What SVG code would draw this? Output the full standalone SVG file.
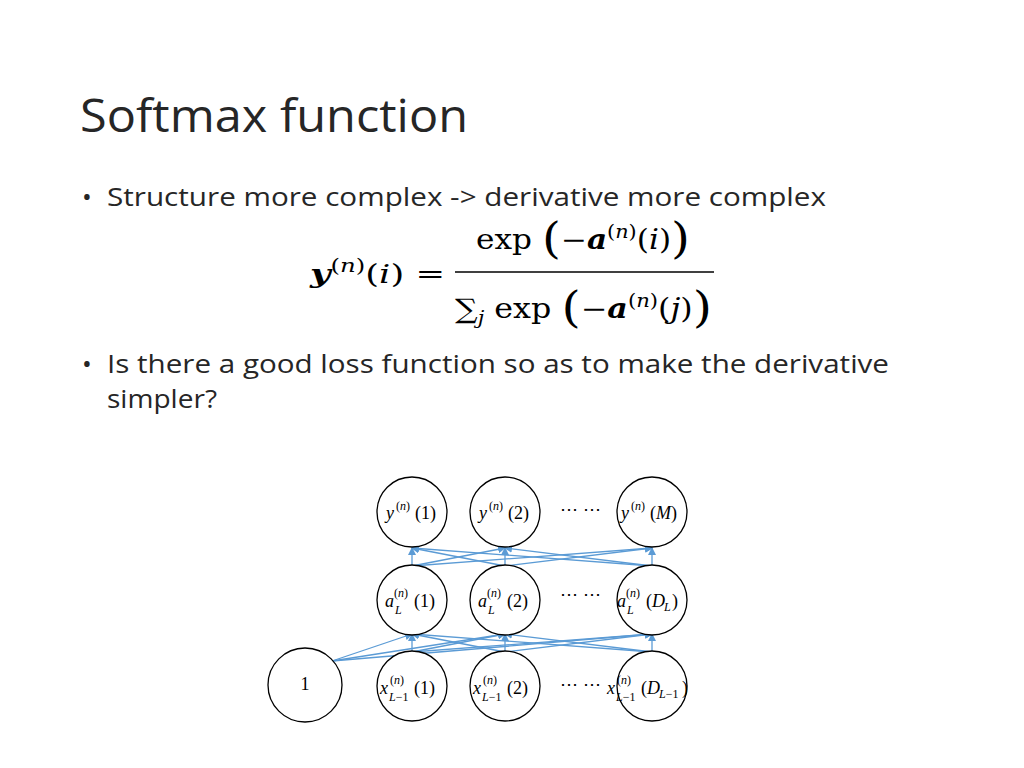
<svg xmlns="http://www.w3.org/2000/svg" width="1024" height="768" viewBox="0 0 1024 768">
<style>
.t{font-family:"Open Sans","Liberation Sans",sans-serif;fill:#262626}
.m{font-family:"DejaVu Serif","Liberation Serif",serif;fill:#000}
.n{fill:#fff;stroke:#000;stroke-width:1.3}
.l{font-family:"Liberation Serif","DejaVu Serif",serif;font-size:18px;fill:#000}
.s{font-family:"Liberation Serif","DejaVu Serif",serif;font-size:12px;fill:#000}
.i{font-style:italic}
.c line{stroke:#5b9bd5;stroke-width:1.3;marker-end:url(#a)}
</style>
<defs><marker id="a" markerWidth="8" markerHeight="8" refX="7" refY="4" orient="auto" markerUnits="userSpaceOnUse"><path d="M0,0L8,4L0,8z" fill="#5b9bd5"/></marker></defs>
<rect width="1024" height="768" fill="#fff"/>
<text class="t" x="80" y="132" font-size="46" textLength="388" lengthAdjust="spacingAndGlyphs">Softmax function</text>
<text class="t" x="82" y="206" font-size="26">•</text>
<text class="t" x="107" y="206" font-size="26" textLength="719" lengthAdjust="spacingAndGlyphs">Structure more complex -&gt; derivative more complex</text>
<text class="m" x="310" y="283" font-size="26" textLength="135" lengthAdjust="spacingAndGlyphs"><tspan font-weight="bold" font-style="italic">y</tspan><tspan font-size="18" dy="-11">(</tspan><tspan font-size="18" font-style="italic">n</tspan><tspan font-size="18">)</tspan><tspan dy="11">(</tspan><tspan font-style="italic">i</tspan><tspan>) =</tspan></text>
<line x1="455" y1="272" x2="714" y2="272" stroke="#000" stroke-width="1.5"/>
<text class="m" x="476" y="249" font-size="27" textLength="214" lengthAdjust="spacingAndGlyphs">exp <tspan font-size="42" dy="4">(</tspan><tspan dy="-4">−</tspan><tspan font-weight="bold" font-style="italic">a</tspan><tspan font-size="18" dy="-11">(</tspan><tspan font-size="18" font-style="italic">n</tspan><tspan font-size="18">)</tspan><tspan dy="11">(</tspan><tspan font-style="italic">i</tspan><tspan>)</tspan><tspan font-size="42" dy="4">)</tspan></text>
<text class="m" x="455" y="318" font-size="27" textLength="257" lengthAdjust="spacingAndGlyphs">∑<tspan font-size="18" font-style="italic" dy="6">j</tspan><tspan dy="-6"> exp </tspan><tspan font-size="42" dy="4">(</tspan><tspan dy="-4">−</tspan><tspan font-weight="bold" font-style="italic">a</tspan><tspan font-size="18" dy="-11">(</tspan><tspan font-size="18" font-style="italic">n</tspan><tspan font-size="18">)</tspan><tspan dy="11">(</tspan><tspan font-style="italic">j</tspan><tspan>)</tspan><tspan font-size="42" dy="4">)</tspan></text>
<text class="t" x="82" y="373" font-size="26">•</text>
<text class="t" x="107" y="373" font-size="26" textLength="782" lengthAdjust="spacingAndGlyphs">Is there a good loss function so as to make the derivative</text>
<text class="t" x="107" y="408" font-size="26" textLength="110" lengthAdjust="spacingAndGlyphs">simpler?</text>
<g class="c">
<line x1="412" y1="566" x2="412" y2="548"/><line x1="412" y1="566" x2="505" y2="548"/><line x1="412" y1="566" x2="652" y2="548"/>
<line x1="505" y1="566" x2="412" y2="548"/><line x1="505" y1="566" x2="505" y2="548"/><line x1="505" y1="566" x2="652" y2="548"/>
<line x1="652" y1="566" x2="412" y2="548"/><line x1="652" y1="566" x2="505" y2="548"/><line x1="652" y1="566" x2="652" y2="548"/>
<line x1="412" y1="652" x2="412" y2="634"/><line x1="412" y1="652" x2="505" y2="634"/><line x1="412" y1="652" x2="652" y2="634"/>
<line x1="505" y1="652" x2="412" y2="634"/><line x1="505" y1="652" x2="505" y2="634"/><line x1="505" y1="652" x2="652" y2="634"/>
<line x1="652" y1="652" x2="412" y2="634"/><line x1="652" y1="652" x2="505" y2="634"/><line x1="652" y1="652" x2="652" y2="634"/>
<line x1="332" y1="661" x2="412" y2="634"/><line x1="332" y1="661" x2="505" y2="634"/><line x1="332" y1="661" x2="652" y2="634"/>
</g>
<g id="y1"><ellipse class="n" cx="412" cy="512" rx="35" ry="35"/><text class="l i" x="386" y="519">y</text><text class="s" x="396" y="510">(<tspan class="i">n</tspan>)</text><text class="l" x="415" y="519">(1)</text></g>
<g id="y2"><ellipse class="n" cx="505" cy="512" rx="35" ry="35"/><text class="l i" x="479" y="519">y</text><text class="s" x="489" y="510">(<tspan class="i">n</tspan>)</text><text class="l" x="508" y="519">(2)</text></g>
<g id="yM"><ellipse class="n" cx="652" cy="512" rx="35" ry="35"/><text class="l i" x="621" y="519">y</text><text class="s" x="631" y="510">(<tspan class="i">n</tspan>)</text><text class="l" x="650" y="519">(<tspan class="i">M</tspan>)</text></g>
<text class="l" x="560" y="515">⋯ ⋯</text>
<g id="a1"><ellipse class="n" cx="412" cy="600" rx="35" ry="35"/><text class="l i" x="385" y="607">a</text><text class="s" x="394" y="597">(<tspan class="i">n</tspan>)</text><text class="s i" x="395" y="614">L</text><text class="l" x="414" y="607">(1)</text></g>
<g id="a2"><ellipse class="n" cx="505" cy="600" rx="35" ry="35"/><text class="l i" x="478" y="607">a</text><text class="s" x="487" y="597">(<tspan class="i">n</tspan>)</text><text class="s i" x="488" y="614">L</text><text class="l" x="507" y="607">(2)</text></g>
<g id="aD"><ellipse class="n" cx="652" cy="600" rx="35" ry="35"/><text class="l i" x="617" y="607">a</text><text class="s" x="626" y="597">(<tspan class="i">n</tspan>)</text><text class="s i" x="627" y="614">L</text><text class="l" x="646" y="607">(<tspan class="i">D</tspan></text><text class="s i" x="664" y="611">L</text><text class="l" x="672" y="607">)</text></g>
<text class="l" x="560" y="600">⋯ ⋯</text>
<g id="one"><ellipse class="n" cx="305" cy="685" rx="37" ry="37"/><text class="l" x="305" y="690" text-anchor="middle">1</text></g>
<g id="x1"><ellipse class="n" cx="412" cy="686" rx="35" ry="35"/><text class="l i" x="380" y="694">x</text><text class="s" x="390" y="684">(<tspan class="i">n</tspan>)</text><text class="s" x="389" y="701"><tspan class="i">L</tspan>−1</text><text class="l" x="414" y="694">(1)</text></g>
<g id="x2"><ellipse class="n" cx="505" cy="686" rx="35" ry="35"/><text class="l i" x="473" y="694">x</text><text class="s" x="483" y="684">(<tspan class="i">n</tspan>)</text><text class="s" x="482" y="701"><tspan class="i">L</tspan>−1</text><text class="l" x="507" y="694">(2)</text></g>
<g id="xD"><ellipse class="n" cx="652" cy="686" rx="35" ry="35"/><text class="l i" x="607" y="694">x</text><text class="s" x="617" y="684">(<tspan class="i">n</tspan>)</text><text class="s" x="616" y="701"><tspan class="i">L</tspan>−1</text><text class="l" x="641" y="694">(<tspan class="i">D</tspan></text><text class="s" x="659" y="698"><tspan class="i">L</tspan>−1</text><text class="l" x="682" y="694">)</text></g>
<text class="l" x="560" y="690">⋯ ⋯</text>
</svg>
